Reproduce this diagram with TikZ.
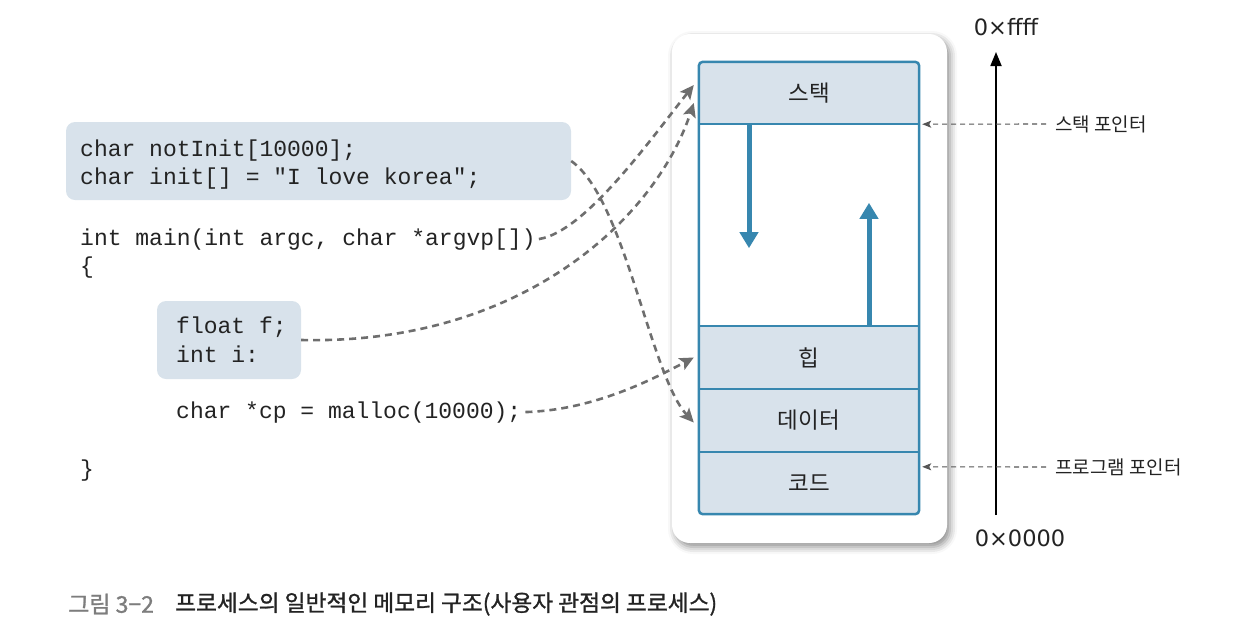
\documentclass[tikz,border=0pt]{standalone}
\usepackage{fontspec}
\setmonofont{Liberation Mono}
\newfontfamily\kr{Noto Sans CJK KR}
\newfontfamily\krb[FakeBold=1.2]{Noto Sans CJK KR}
\newfontfamily\dv{DejaVu Sans}
\usetikzlibrary{arrows.meta,calc,shadows.blur}
\definecolor{memblue}{RGB}{55,135,175}
\definecolor{memfill}{RGB}{216,226,235}
\definecolor{dashgray}{RGB}{110,110,110}
\definecolor{ptrgray}{RGB}{85,85,85}
\definecolor{txt}{RGB}{35,35,35}
\definecolor{capgray}{RGB}{125,125,125}
\tikzset{
  sec/.style={fill=memfill, draw=none, minimum width=220pt, inner sep=0pt, font=\kr\fontsize{22.5}{22.5}\selectfont, text=txt},
  codebox/.style={fill=memfill, draw=none, rounded corners=9pt, inner sep=0pt},
  codetxt/.style={anchor=base west, inner sep=0pt, font=\ttfamily\fontsize{23}{23}\selectfont, text=txt},
  link/.style={draw=dashgray, line width=2.6pt, dash pattern=on 7pt off 5pt, -{Stealth[length=14pt,width=13pt,inset=3pt]}},
  ptr/.style={draw=ptrgray, line width=1.1pt, dash pattern=on 5pt off 4pt, -{Stealth[length=9pt,width=7pt,inset=2pt]}},
  growarrow/.style={draw=memblue, line width=5pt, -{Triangle[length=16pt,width=18pt]}},
  ptrlabel/.style={anchor=west, inner sep=0pt, font=\kr\fontsize{19}{19}\selectfont, text=txt},
  hexlabel/.style={inner sep=0pt, font=\dv\fontsize{22.5}{22.5}\selectfont, text=txt}
}
\begin{document}
\begin{tikzpicture}[x=1pt,y=-1pt]
\useasboundingbox (0,0) rectangle (1254,630);
% process outer card
\path[fill=white, rounded corners=18pt, blur shadow={shadow xshift=3pt, shadow yshift=-4pt, shadow blur radius=7pt, shadow opacity=45}] (672,34) rectangle (947,543);
% memory sections
\node[sec, minimum height=62pt] (stack) at (809,93) {스택};
\node[sec, fill=white, minimum height=202pt] (free) at (809,225) {};
\node[sec, minimum height=63pt] (heap) at (809,357.5) {힙};
\node[sec, minimum height=63pt] (data) at (809,420.5) {데이터};
\node[sec, minimum height=62pt] (code) at (809,483) {코드};
\draw[memblue, line width=2.5pt, rounded corners=4pt] (stack.north west) rectangle (code.south east);
\draw[memblue, line width=2.5pt] (stack.south west) -- (stack.south east);
\draw[memblue, line width=2.5pt] (heap.north west) -- (heap.north east);
\draw[memblue, line width=2.5pt] (data.north west) -- (data.north east);
\draw[memblue, line width=2.5pt] (code.north west) -- (code.north east);
% growth arrows
\draw[growarrow] ($(stack.south)+(-60,0)$) -- ($(stack.south)+(-60,124)$);
\draw[growarrow] ($(heap.north)+(60,0)$) -- ($(heap.north)+(60,-123)$);
% address axis
\node[hexlabel] (hi) at (1006,27) {0×ffff};
\node[hexlabel] (lo) at (1020,538) {0×0000};
\coordinate (axbot) at (996,515);
\coordinate (axtop) at (996,52);
\draw[black, line width=1.8pt, -{Triangle[length=14pt,width=11pt]}] (axbot) -- (axtop);
% pointers
\node[ptrlabel] (sp) at (1055,124) {스택 포인터};
\node[ptrlabel] (pp) at (1055,467) {프로그램 포인터};
\draw[ptr] ([xshift=-9pt]sp.west) -- ([xshift=3pt]stack.south east);
\draw[ptr] ([xshift=-9pt]pp.west) -- ($(code.north east)+(3,15)$);
% code
\node[codebox, minimum width=505pt, minimum height=78pt] (box1) at (318.5,161) {};
\node[codebox, minimum width=144pt, minimum height=78pt] (box2) at (229,340) {};
\node[codetxt] (c1) at (80,156) {char notInit[10000];};
\node[codetxt] (c2) at (80,184) {char init[] = "I love korea";};
\node[codetxt] (m1) at (80,245) {int main(int argc, char *argvp[])};
\node[codetxt] (m2) at (80,273) {\{};
\node[codetxt] (v1) at (176,333) {float f;};
\node[codetxt] (v2) at (176,362) {int i:};
\node[codetxt] (mal) at (176,418) {char *cp = malloc(10000);};
\node[codetxt] (m3) at (80,476) {\}};
% links
\draw[link] (box1.east) .. controls (625,199) and (650,375) .. ($(data.west)+(-5,2)$);
\draw[link] ([xshift=3pt]m1.east) .. controls (585,232) and (650,140) .. ($(stack.west)+(-5,-8)$);
\draw[link] (box2.east) .. controls (520,345) and (655,220) .. ($(stack.west)+(-5,10)$);
\draw[link] ([xshift=4pt]mal.east) .. controls (595,410) and (655,378) .. ($(heap.west)+(-5,0)$);
% caption
\node[anchor=west, inner sep=0pt, font=\krb\fontsize{23}{23}\selectfont, text=capgray] (fig) at (68,604) {그림 3−2};
\node[anchor=west, inner sep=0pt, font=\krb\fontsize{22.7}{22.7}\selectfont, text=txt] (title) at (175,604) {프로세스의 일반적인 메모리 구조(사용자 관점의 프로세스)};
\end{tikzpicture}
\end{document}
